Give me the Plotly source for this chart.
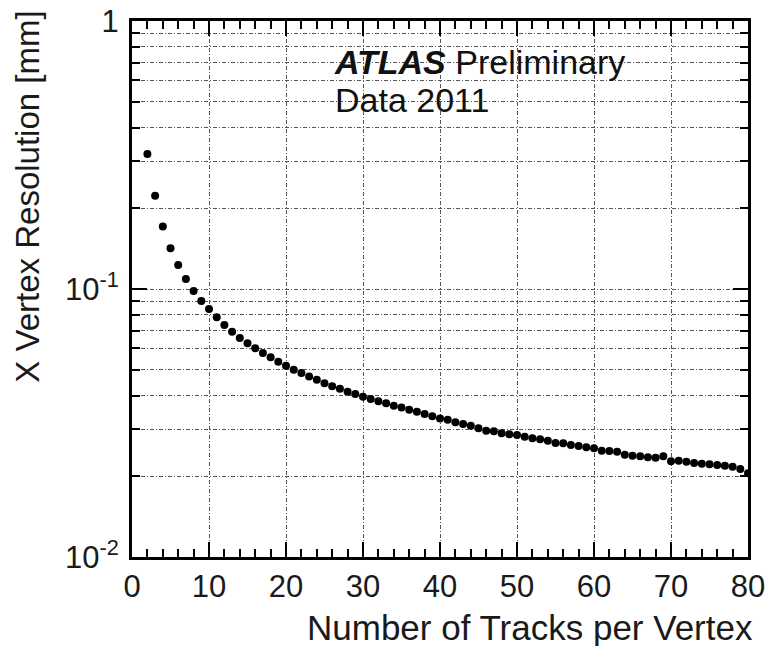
import plotly.graph_objects as go

# Number of tracks per vertex and the measured x vertex resolution [mm]
n_tracks = list(range(2, 81))
resolution_mm = [
    0.319, 0.223, 0.171, 0.142, 0.123, 0.109, 0.0984, 0.0902, 0.0842,  # 2-10
    0.0784, 0.0734, 0.0693, 0.0657, 0.0627, 0.0601, 0.0577, 0.0556, 0.0535, 0.0517,  # 11-20
    0.0500, 0.0486, 0.0472, 0.0459, 0.0445, 0.0434, 0.0424, 0.0414, 0.0406, 0.0396,  # 21-30
    0.0389, 0.0381, 0.0375, 0.0367, 0.0361, 0.0354, 0.0348, 0.0342, 0.0335, 0.0329,  # 31-40
    0.03253, 0.03181, 0.03135, 0.03090, 0.03022, 0.02960, 0.02944, 0.02894, 0.0287, 0.02852,  # 41-50
    0.02811, 0.02772, 0.02749, 0.02716, 0.02663, 0.02658, 0.02618, 0.02596, 0.02567, 0.02544,  # 51-60
    0.02492, 0.02486, 0.02471, 0.02408, 0.02388, 0.02375, 0.02355, 0.02347, 0.02375, 0.02275,  # 61-70
    0.02287, 0.02267, 0.02242, 0.02228, 0.02217, 0.02204, 0.02191, 0.02172, 0.02130, 0.02052,  # 71-80
]

x_tick_vals = [0, 10, 20, 30, 40, 50, 60, 70, 80]
y_tick_vals = [0.01, 0.1, 1]
y_tick_text = ["10<sup>-2</sup>", "10<sup>-1</sup>", "1"]
y_minor_vals = [m * d for d in (0.01, 0.1) for m in range(2, 10)]

FONT = "Liberation Sans, Arial, sans-serif"
GRID = dict(color="#555555", width=1, dash="4px,2px,1px,2px")

fig = go.Figure(
    go.Scatter(
        x=n_tracks,
        y=resolution_mm,
        mode="markers",
        marker=dict(color="black", size=8, symbol="circle"),
        showlegend=False,
    )
)

fig.update_xaxes(
    range=[0, 80],
    automargin=False,
    tickmode="array",
    tickvals=x_tick_vals,
    ticks="inside",
    ticklen=15,
    tickwidth=1.5,
    tickcolor="black",
    showline=True,
    linecolor="black",
    linewidth=3,
    mirror="ticks",
    showgrid=True,
    gridcolor=GRID["color"],
    gridwidth=GRID["width"],
    griddash=GRID["dash"],
    zeroline=False,
    tickfont=dict(family=FONT, size=31, color="#1a1a1a"),
    ticklabelstandoff=0,
    minor=dict(
        dtick=2,
        ticks="inside",
        ticklen=8,
        tickwidth=1.5,
        tickcolor="black",
        showgrid=False,
    ),
)

fig.update_yaxes(
    type="log",
    range=[-2, 0],
    automargin=False,
    tickmode="array",
    tickvals=y_tick_vals,
    ticktext=y_tick_text,
    ticks="inside",
    ticklen=15,
    tickwidth=1.5,
    tickcolor="black",
    showline=True,
    linecolor="black",
    linewidth=3,
    mirror="ticks",
    showgrid=True,
    gridcolor=GRID["color"],
    gridwidth=GRID["width"],
    griddash=GRID["dash"],
    zeroline=False,
    tickfont=dict(family=FONT, size=31, color="#1a1a1a"),
    ticklabelstandoff=4,
    minor=dict(
        tickmode="array",
        tickvals=y_minor_vals,
        ticks="inside",
        ticklen=8,
        tickwidth=1.5,
        tickcolor="black",
        showgrid=True,
        gridcolor=GRID["color"],
        gridwidth=GRID["width"],
        griddash=GRID["dash"],
    ),
)

annotations = [
    dict(
        text="<b><i>ATLAS</i></b> Preliminary",
        xref="paper", yref="paper",
        x=0.325, y=0.9235,
        xanchor="left", yanchor="middle",
        showarrow=False,
        font=dict(family=FONT, size=34, color="#111111"),
    ),
    dict(
        text="Data 2011",
        xref="paper", yref="paper",
        x=0.327, y=0.8526,
        xanchor="left", yanchor="middle",
        showarrow=False,
        font=dict(family=FONT, size=34, color="#111111"),
    ),
    dict(
        text="Number of Tracks per Vertex",
        xref="paper", yref="paper",
        x=1.011, y=-0.1306,
        xanchor="right", yanchor="middle",
        showarrow=False,
        font=dict(family=FONT, size=35, color="#1a1a1a"),
    ),
    dict(
        text="X Vertex Resolution [mm]",
        xref="paper", yref="paper",
        x=-0.169, y=0.672,
        xanchor="center", yanchor="middle",
        textangle=-90,
        showarrow=False,
        font=dict(family=FONT, size=33, color="#1a1a1a"),
    ),
]

fig.update_layout(
    width=768,
    height=646,
    margin=dict(l=132, r=20, t=21, b=89),
    paper_bgcolor="white",
    plot_bgcolor="white",
    annotations=annotations,
)

fig.write_html("out.html")
